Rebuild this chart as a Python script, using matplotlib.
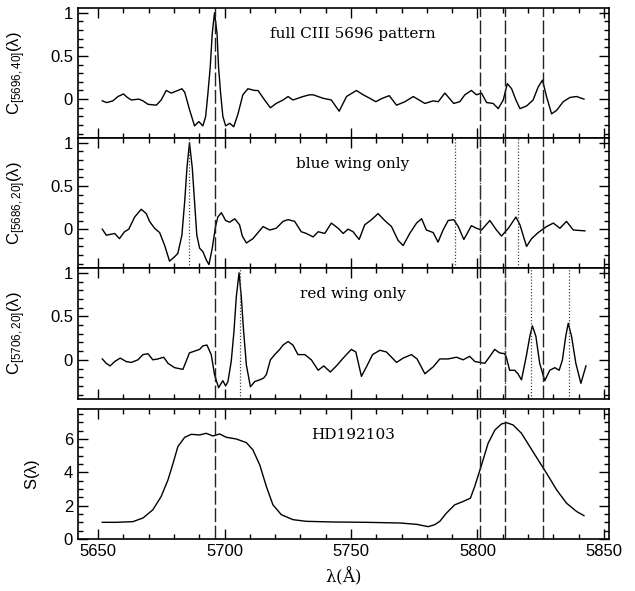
import matplotlib
matplotlib.use("Agg")
import matplotlib.pyplot as plt
from matplotlib.ticker import MultipleLocator, FixedLocator

# wavelengths of the CIII 5696 pattern and shifted wings
main_lines = [5696, 5801, 5811, 5826]
blue_lines = [5686, 5791, 5801, 5816]
red_lines = [5706, 5811, 5821, 5836]

# panel 1: full CIII 5696 pattern
wl1 = [5651.6, 5653.4, 5655.8, 5657.8, 5660.0, 5661.5, 5663.1, 5666.1, 5667.7, 5669.7,
       5673.0, 5674.9, 5676.9, 5678.9, 5681.5, 5683.1, 5684.2, 5686.2, 5688.1, 5689.8,
       5691.4, 5692.5, 5693.4, 5694.3, 5695.1, 5696.0, 5697.0, 5697.6, 5698.4, 5699.3,
       5700.4, 5702.0, 5703.6, 5705.3, 5707.2, 5709.2, 5711.9, 5713.2, 5715.8, 5718.1,
       5720.4, 5723.1, 5725.1, 5727.0, 5729.0, 5731.0, 5733.6, 5735.0, 5738.9, 5742.2,
       5745.3, 5748.2, 5752.1, 5754.8, 5757.4, 5759.8, 5762.4, 5765.1, 5768.0, 5771.3,
       5774.6, 5779.2, 5782.5, 5784.5, 5787.1, 5790.6, 5793.0, 5795.0, 5797.6, 5799.6,
       5801.6, 5803.6, 5806.2, 5808.2, 5810.2, 5811.8, 5813.5, 5815.2, 5816.8, 5819.4,
       5822.0, 5824.0, 5825.7, 5827.3, 5829.3, 5831.3, 5833.9, 5836.6, 5839.2, 5842.1]
c1 = [-0.02, -0.04, -0.02, 0.03, 0.06, 0.02, -0.01, 0.00, -0.02, -0.06,
      -0.07, -0.01, 0.10, 0.07, 0.10, 0.12, 0.08, -0.13, -0.31, -0.26,
      -0.31, -0.20, 0.07, 0.37, 0.76, 1.00, 0.76, 0.37, 0.07, -0.20,
      -0.31, -0.28, -0.32, -0.17, 0.05, 0.12, 0.10, 0.10, -0.01, -0.10,
      -0.05, -0.01, 0.03, -0.01, 0.01, 0.03, 0.05, 0.05, 0.01, -0.01,
      -0.14, 0.03, 0.10, 0.05, 0.01, -0.03, 0.01, 0.04, -0.07, -0.03,
      0.03, -0.05, -0.02, -0.03, 0.07, -0.05, -0.03, 0.05, 0.10, 0.05,
      0.07, -0.04, -0.05, -0.11, -0.01, 0.18, 0.12, -0.01, -0.11, -0.08,
      -0.01, 0.14, 0.22, 0.03, -0.17, -0.13, -0.03, 0.02, 0.03, 0.00]

# panel 2: blue wing only
wl2 = [5651.6, 5653.2, 5656.5, 5658.4, 5660.4, 5662.1, 5664.4, 5667.0, 5669.0, 5670.3,
       5672.3, 5674.3, 5676.3, 5678.2, 5680.2, 5681.5, 5683.1, 5684.2, 5685.1, 5686.1,
       5687.2, 5688.1, 5689.0, 5690.1, 5691.4, 5692.8, 5693.8, 5695.1, 5696.4, 5697.3,
       5698.7, 5700.4, 5702.0, 5704.0, 5705.9, 5707.0, 5708.6, 5711.2, 5715.2, 5717.8,
       5720.4, 5723.1, 5725.1, 5727.7, 5730.3, 5732.3, 5735.0, 5737.0, 5739.6, 5742.2,
       5744.9, 5746.9, 5748.8, 5750.8, 5753.2, 5755.4, 5758.1, 5760.7, 5763.3, 5766.0,
       5768.6, 5770.6, 5773.2, 5775.9, 5777.9, 5779.8, 5782.5, 5784.4, 5786.4, 5788.4,
       5790.6, 5792.4, 5794.6, 5797.6, 5799.6, 5801.6, 5804.9, 5807.5, 5809.5, 5812.2,
       5815.2, 5816.8, 5819.4, 5821.4, 5824.0, 5827.3, 5830.0, 5832.6, 5835.2, 5837.9,
       5842.5]
c2 = [0.00, -0.07, -0.05, -0.11, -0.03, 0.00, 0.14, 0.23, 0.18, 0.09,
      0.01, -0.04, -0.19, -0.37, -0.32, -0.28, -0.07, 0.32, 0.71, 1.00,
      0.71, 0.32, -0.07, -0.22, -0.26, -0.36, -0.41, -0.22, 0.03, 0.14,
      0.19, 0.10, 0.08, 0.12, 0.05, -0.08, -0.16, -0.11, 0.03, -0.01,
      0.01, 0.09, 0.11, 0.09, -0.03, -0.05, -0.09, -0.03, -0.05, 0.07,
      0.01, -0.05, 0.00, -0.03, -0.12, 0.05, 0.11, 0.18, 0.10, 0.03,
      -0.13, -0.19, -0.05, 0.07, 0.12, -0.01, -0.04, -0.15, -0.01, 0.10,
      0.11, 0.03, -0.12, 0.04, 0.01, -0.01, 0.10, -0.01, -0.08, 0.01,
      0.14, 0.05, -0.20, -0.11, -0.04, 0.03, 0.07, 0.01, 0.09, -0.01,
      -0.02]

# panel 3: red wing only
wl3 = [5651.6, 5653.2, 5654.7, 5656.5, 5658.7, 5661.1, 5663.1, 5665.7, 5667.7, 5669.7,
       5671.6, 5673.6, 5675.9, 5677.6, 5680.2, 5683.5, 5686.1, 5688.1, 5690.1, 5691.4,
       5693.0, 5694.7, 5696.0, 5697.6, 5699.3, 5700.4, 5701.3, 5702.6, 5703.7, 5704.6,
       5705.7, 5706.6, 5707.5, 5708.6, 5710.2, 5711.9, 5713.9, 5715.4, 5716.5, 5718.1,
       5719.8, 5721.8, 5723.1, 5725.1, 5727.0, 5729.0, 5731.7, 5734.3, 5737.0, 5739.2,
       5741.8, 5744.2, 5746.9, 5750.1, 5751.9, 5754.1, 5756.1, 5758.5, 5761.4, 5764.0,
       5768.0, 5770.6, 5773.9, 5776.1, 5779.2, 5782.5, 5785.1, 5788.4, 5791.7, 5794.3,
       5796.9, 5799.0, 5800.9, 5802.9, 5804.9, 5806.8, 5808.7, 5810.8, 5811.5, 5812.7,
       5814.7, 5816.0, 5817.4, 5819.3, 5820.7, 5821.7, 5823.1, 5824.6, 5826.6, 5828.6,
       5830.6, 5832.3, 5833.6, 5834.9, 5835.9, 5837.2, 5838.9, 5840.9, 5842.9]
c3 = [0.01, -0.04, -0.07, -0.02, 0.02, -0.02, -0.03, 0.00, 0.06, 0.07,
      0.00, 0.01, 0.03, -0.04, -0.09, -0.11, 0.08, 0.10, 0.12, 0.16,
      0.17, 0.06, -0.17, -0.32, -0.24, -0.30, -0.25, -0.02, 0.33, 0.72,
      1.00, 0.72, 0.33, -0.06, -0.31, -0.25, -0.23, -0.21, -0.17, 0.00,
      0.06, 0.12, 0.17, 0.21, 0.17, 0.06, 0.06, 0.00, -0.12, -0.07,
      -0.14, -0.07, 0.02, 0.12, 0.09, -0.19, -0.08, 0.06, 0.11, 0.09,
      -0.03, 0.02, 0.06, 0.01, -0.16, -0.08, 0.01, 0.01, 0.03, 0.00,
      0.04, -0.02, -0.03, -0.04, 0.04, 0.12, 0.08, 0.07, 0.02, -0.12,
      -0.12, -0.16, -0.23, 0.04, 0.27, 0.39, 0.27, -0.04, -0.24, -0.12,
      -0.09, -0.12, 0.00, 0.27, 0.42, 0.27, -0.04, -0.27, -0.07]

# panel 4: HD192103 spectrum
wl4 = [5651.6, 5657.1, 5663.7, 5667.7, 5671.6, 5674.9, 5677.6, 5679.6, 5681.5, 5684.2,
       5686.8, 5690.1, 5692.7, 5695.4, 5698.0, 5700.7, 5704.6, 5708.6, 5711.2, 5713.9,
       5716.5, 5719.1, 5722.4, 5727.0, 5732.3, 5737.6, 5742.9, 5756.1, 5769.3, 5775.9,
       5780.5, 5783.1, 5785.1, 5787.7, 5791.0, 5794.3, 5797.2, 5798.9, 5801.6, 5804.2,
       5806.9, 5809.5, 5811.5, 5814.1, 5817.4, 5820.7, 5824.0, 5827.3, 5831.3, 5835.2,
       5839.2, 5842.1]
s4 = [1.00, 1.00, 1.04, 1.26, 1.75, 2.55, 3.55, 4.54, 5.54, 6.10,
      6.28, 6.24, 6.34, 6.18, 6.30, 6.10, 6.00, 5.78, 5.34, 4.44,
      3.15, 2.05, 1.46, 1.16, 1.06, 1.04, 1.02, 1.00, 0.96, 0.88,
      0.74, 0.86, 1.06, 1.55, 2.05, 2.25, 2.45, 3.15, 4.44, 5.74,
      6.54, 6.90, 6.98, 6.84, 6.34, 5.54, 4.74, 3.95, 2.95, 2.15,
      1.65, 1.40]

plt.rcParams['font.family'] = ['Liberation Sans', 'DejaVu Sans']
plt.rcParams['mathtext.default'] = 'regular'

fig = plt.figure(figsize=(6.35, 5.91), dpi=100)
left, width = 0.1228, 0.8362
ax1 = fig.add_axes([left, 0.7665, width, 0.2200])
ax2 = fig.add_axes([left, 0.5465, width, 0.2200])
ax3 = fig.add_axes([left, 0.3249, width, 0.2216])
ax4 = fig.add_axes([left, 0.0880, width, 0.2200])

panels = [
    (ax1, wl1, c1, r'C$_{[5696,40]}$($\lambda$)', 'full CIII 5696 pattern', None),
    (ax2, wl2, c2, r'C$_{[5686,20]}$($\lambda$)', 'blue wing only', blue_lines),
    (ax3, wl3, c3, r'C$_{[5706,20]}$($\lambda$)', 'red wing only', red_lines),
    (ax4, wl4, s4, r'S($\lambda$)', 'HD192103', None),
]

for ax, x, y, ylab, title, dots in panels:
    ax.plot(x, y, color='black', lw=1.0)
    for w in main_lines:
        ax.axvline(w, color='#222222', lw=1.0, dashes=(10, 2.5))
    if dots:
        for w in dots:
            ax.axvline(w, color='#444444', lw=0.9, ls=(0, (1, 1.5)))
    ax.set_xlim(5642, 5852)
    ax.xaxis.set_major_locator(MultipleLocator(50))
    ax.xaxis.set_minor_locator(MultipleLocator(10))
    ax.tick_params(which='both', direction='in', top=True, right=True, labelsize=12)
    ax.tick_params(which='major', length=7, width=1)
    ax.tick_params(which='minor', length=3.5, width=1)
    for sp in ax.spines.values():
        sp.set_linewidth(1.2)
    ax.set_ylabel(ylab, fontsize=12)
    ax.text(0.518, 0.80, title, transform=ax.transAxes, ha='center', va='center',
            fontsize=11, family='DejaVu Serif')
    if ax is not ax4:
        ax.set_ylim(-0.45, 1.055)
        ax.yaxis.set_major_locator(FixedLocator([0, 0.5, 1]))
        ax.yaxis.set_minor_locator(MultipleLocator(0.1))
        ax.set_yticklabels(['0', '0.5', '1'])
        ax.tick_params(labelbottom=False)
        ax.yaxis.set_label_coords(-0.094, 0.5)
    else:
        ax.set_ylim(0, 7.8)
        ax.yaxis.set_major_locator(MultipleLocator(2))
        ax.yaxis.set_minor_locator(MultipleLocator(0.5))
        ax.yaxis.set_label_coords(-0.068, 0.5)
        ax.set_xlabel(r'$\lambda$(Å)', fontsize=12, family='DejaVu Serif')

fig.savefig('out.png', dpi=100)
